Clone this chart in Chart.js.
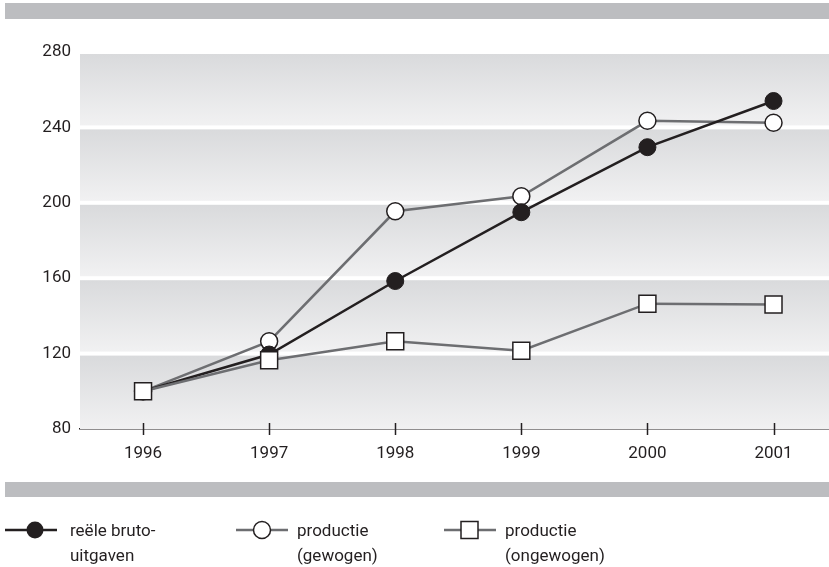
<!DOCTYPE html>
<html>
<head>
<meta charset="utf-8">
<script src="https://cdn.jsdelivr.net/npm/chart.js@4"></script>
<style>
  body { margin: 0; background: #fff; }
  #wrap { position: relative; width: 829px; height: 567px; overflow: hidden; font-family: Roboto, "Liberation Sans", sans-serif; }
  .band { position: absolute; left: 5px; width: 824px; background: #bcbdc0; }
  canvas { position: absolute; left: 0; top: 0; }
  .leg { position: absolute; top: 518px; font-size: 17px; line-height: 25px; color: #231f20; }
  .sym { position: absolute; top: 520px; }
</style>
</head>
<body>
<div id="wrap">
  <div class="band" style="top:3px;height:16px"></div>
  <canvas id="chart1" width="829" height="567"></canvas>
  <div class="band" style="top:482px;height:15px"></div>

  <svg class="sym" style="left:5px" width="52" height="20">
    <line x1="0" y1="10" x2="52" y2="10" stroke="#231f20" stroke-width="2.5"/>
    <circle cx="30" cy="10" r="8.5" fill="#231f20"/>
  </svg>
  <div class="leg" style="left:70px">reële bruto-<br>uitgaven</div>

  <svg class="sym" style="left:236px" width="52" height="20">
    <line x1="0" y1="10" x2="52" y2="10" stroke="#6d6e71" stroke-width="2.5"/>
    <circle cx="26" cy="10" r="8.5" fill="#fff" stroke="#231f20" stroke-width="1.5"/>
  </svg>
  <div class="leg" style="left:297px">productie<br>(gewogen)</div>

  <svg class="sym" style="left:444px" width="52" height="20">
    <line x1="0" y1="10" x2="52" y2="10" stroke="#6d6e71" stroke-width="2.5"/>
    <rect x="17" y="1.5" width="17" height="17" fill="#fff" stroke="#231f20" stroke-width="1.5"/>
  </svg>
  <div class="leg" style="left:505px">productie<br>(ongewogen)</div>
</div>
<script>
const years = [1996, 1997, 1998, 1999, 2000, 2001];
const bruto = [100, 119.5, 158.5, 195, 229.5, 254];
const gewogen = [100, 126.5, 195.5, 203.5, 243.5, 242.5];
const ongewogen = [100, 116.5, 126.5, 121.5, 146.5, 146];
const yTicks = [80, 120, 160, 200, 240, 280];

const pts = arr => arr.map((v, i) => ({ x: years[i], y: v }));

// grey gradient bands between the horizontal gridlines
const bands = {
  id: 'bands',
  beforeDatasetsDraw(chart) {
    const { ctx, chartArea, scales } = chart;
    const y = scales.y;
    for (let i = 0; i < yTicks.length - 1; i++) {
      const top = y.getPixelForValue(yTicks[i + 1]) + 2;
      const bottom = y.getPixelForValue(yTicks[i]) - (i === 0 ? 0 : 2);
      const g = ctx.createLinearGradient(0, top, 0, bottom);
      g.addColorStop(0, '#d9dadc');
      g.addColorStop(1, '#f1f1f2');
      ctx.fillStyle = g;
      ctx.fillRect(chartArea.left, top, chartArea.right - chartArea.left, bottom - top);
    }
  },
  afterDraw(chart) {
    const { ctx, chartArea, scales } = chart;
    ctx.save();
    ctx.strokeStyle = '#231f20';
    ctx.lineWidth = 1.5;
    years.forEach(v => {
      const x = Math.round(scales.x.getPixelForValue(v)) + 0.5;
      ctx.beginPath();
      ctx.moveTo(x, chartArea.bottom - 6);
      ctx.lineTo(x, chartArea.bottom + 6);
      ctx.stroke();
    });
    ctx.restore();
  }
};

new Chart('chart1', {
  type: 'line',
  data: {
    datasets: [
      {
        label: 'productie (ongewogen)',
        data: pts(ongewogen),
        borderColor: '#6d6e71',
        borderWidth: 2.5,
        pointStyle: 'rect',
        pointRadius: 12,
        pointBackgroundColor: '#fff',
        pointBorderColor: '#231f20',
        pointBorderWidth: 1.5,
        order: 1
      },
      {
        label: 'reële bruto-uitgaven',
        data: pts(bruto),
        borderColor: '#231f20',
        borderWidth: 2.5,
        pointRadius: 8.5,
        pointBackgroundColor: '#231f20',
        pointBorderColor: '#231f20',
        pointBorderWidth: 1,
        order: 2
      },
      {
        label: 'productie (gewogen)',
        data: pts(gewogen),
        borderColor: '#6d6e71',
        borderWidth: 2.5,
        pointRadius: 8.5,
        pointBackgroundColor: '#fff',
        pointBorderColor: '#231f20',
        pointBorderWidth: 1.5,
        order: 3
      }
    ]
  },
  options: {
    responsive: false,
    animation: false,
    devicePixelRatio: 1,
    layout: { autoPadding: false, padding: { top: 52, right: 0, left: 0, bottom: 0 } },
    plugins: { legend: { display: false }, tooltip: { enabled: false } },
    scales: {
      x: {
        type: 'linear',
        min: 1995.5,
        max: 2001.44,
        afterBuildTicks: s => { s.ticks = years.map(v => ({ value: v })); },
        afterFit: s => { s.height = 138; s.paddingLeft = 0; s.paddingRight = 0; },
        grid: { display: false },
        border: { display: true, color: '#231f20', width: 1.5 },
        ticks: { padding: 7, color: '#231f20', font: { family: 'Roboto', size: 17 }, callback: v => String(v) }
      },
      y: {
        min: 80,
        max: 280,
        afterBuildTicks: s => { s.ticks = yTicks.map(v => ({ value: v })); },
        afterFit: s => { s.width = 80; s.paddingTop = 0; s.paddingBottom = 0; },
        grid: { display: false },
        border: { display: false },
        ticks: { padding: 1, color: '#231f20', font: { family: 'Roboto', size: 17 } }
      }
    }
  },
  plugins: [bands]
});
</script>
</body>
</html>
